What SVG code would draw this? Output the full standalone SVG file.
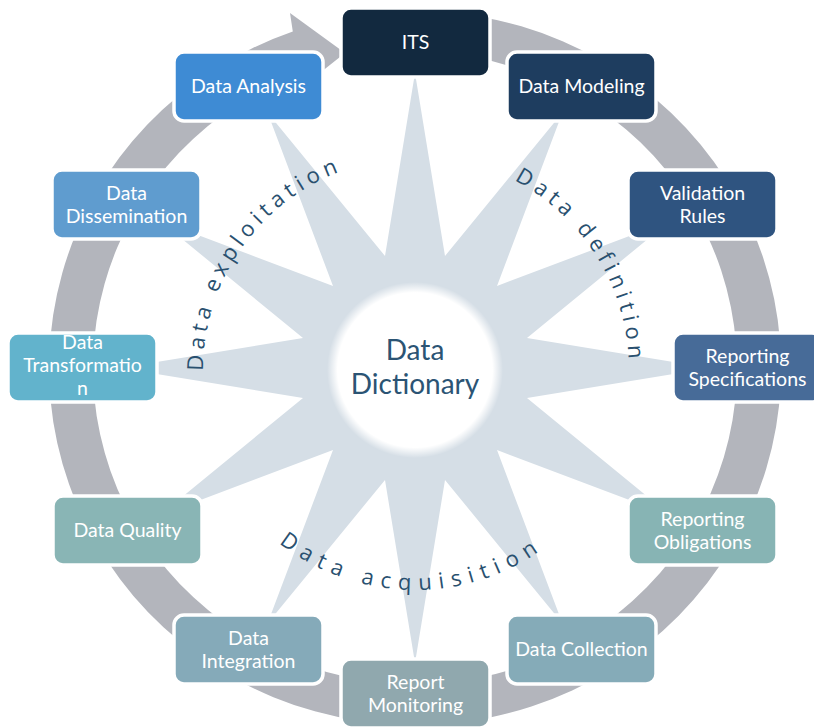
<svg xmlns="http://www.w3.org/2000/svg" width="814" height="728" viewBox="0 0 814 728">
<defs>
<style>
.box{stroke:#ffffff;stroke-width:3.5}
.lbl{font-family:Lato,"Open Sans",sans-serif;font-size:19.5px;fill:#ffffff;text-anchor:middle}
.arc{font-family:"Open Sans","Noto Sans",sans-serif;font-size:22px;fill:#29506f;letter-spacing:5px}
.wide{letter-spacing:7.5px}
.dd{font-family:Lato,"Open Sans",sans-serif;font-size:28px;fill:#2b5474;text-anchor:middle}
</style>
<radialGradient id="glow" cx="415" cy="370" r="88" gradientUnits="userSpaceOnUse">
<stop offset="0" stop-color="#ffffff" stop-opacity="1"/>
<stop offset="0.88" stop-color="#ffffff" stop-opacity="1"/>
<stop offset="1" stop-color="#ffffff" stop-opacity="0"/>
</radialGradient>
<path id="pExp" d="M231.4,476 A212,212 0 0 1 451.8,161.2"/>
<path id="pDef" d="M388.9,157.6 A214,214 0 0 1 594.5,486.6"/>
<path id="pAcq" d="M214,459.5 A220,220 0 0 0 612.7,466.4"/>
</defs>
<rect width="814" height="728" fill="#ffffff"/>
<g id="connectors">
<path id="ring" fill="#b3b5bc" d="M478.6,16.4 A366,357 0 1 1 292.8,31.5 L290,13 L345,53 L311,80 L307.5,70.1 A322,316 0 1 0 470.9,56.8 Z"/>
</g>
<g id="star">
<path fill="#d5dee6" d="M415,73 L445,256 L562.5,112.5 L497,286 L670.5,220.5 L527,338 L710,368 L527,398 L670.5,515.5 L497,450 L562.5,623.5 L445,480 L415,663 L385,480 L267.5,623.5 L333,450 L159.5,515.5 L303,398 L120,368 L303,338 L159.5,220.5 L333,286 L267.5,112.5 L385,256 Z"/>
</g>
<g id="center">
<circle cx="415" cy="370" r="88" fill="url(#glow)"/>
<text class="dd" x="415" y="360">Data</text>
<text class="dd" x="415" y="394">Dictionary</text>
</g>
<g id="phases">
<text class="arc"><textPath href="#pExp" startOffset="50%" text-anchor="middle">Data exploitation</textPath></text>
<text class="arc"><textPath href="#pDef" startOffset="50%" text-anchor="middle">Data definition</textPath></text>
<text class="arc wide"><textPath href="#pAcq" startOffset="50%" text-anchor="middle">Data acquisition</textPath></text>
</g>
<g id="n-its"><rect class="box" x="341" y="8" width="149" height="69" rx="10" fill="#12293f"/><text class="lbl" x="415.5" y="49">ITS</text></g>
<g id="n-modeling"><rect class="box" x="507" y="52" width="149" height="69" rx="10" fill="#1e3d5f"/><text class="lbl" x="581.5" y="93">Data Modeling</text></g>
<g id="n-validation"><rect class="box" x="628" y="170" width="149" height="69" rx="10" fill="#2f5480"/><text class="lbl" x="702.5" y="200">Validation</text><text class="lbl" x="702.5" y="223">Rules</text></g>
<g id="n-specs"><rect class="box" x="673" y="333" width="149" height="69" rx="10" fill="#476b98"/><text class="lbl" x="747.5" y="363">Reporting</text><text class="lbl" x="747.5" y="386">Specifications</text></g>
<g id="n-obligations"><rect class="box" x="628" y="496" width="149" height="69" rx="10" fill="#87b4b4"/><text class="lbl" x="702.5" y="525.5">Reporting</text><text class="lbl" x="702.5" y="548.5">Obligations</text></g>
<g id="n-collection"><rect class="box" x="507" y="615" width="149" height="69" rx="10" fill="#85abb8"/><text class="lbl" x="581.5" y="656">Data Collection</text></g>
<g id="n-monitoring"><rect class="box" x="341" y="659" width="149" height="69" rx="10" fill="#90a8ae"/><text class="lbl" x="415.5" y="688.5">Report</text><text class="lbl" x="415.5" y="711.5">Monitoring</text></g>
<g id="n-integration"><rect class="box" x="174" y="615" width="149" height="69" rx="10" fill="#85aab9"/><text class="lbl" x="248.5" y="644.5">Data</text><text class="lbl" x="248.5" y="667.5">Integration</text></g>
<g id="n-quality"><rect class="box" x="53" y="496" width="149" height="69" rx="10" fill="#89b5b5"/><text class="lbl" x="127.5" y="537">Data Quality</text></g>
<g id="n-transformation"><rect class="box" x="8" y="333" width="149" height="69" rx="10" fill="#62b3cc"/><text class="lbl" x="82.5" y="349">Data</text><text class="lbl" x="82.5" y="372">Transformatio</text><text class="lbl" x="82.5" y="395">n</text></g>
<g id="n-dissemination"><rect class="box" x="52" y="170" width="149" height="69" rx="10" fill="#5f9ccf"/><text class="lbl" x="126.5" y="200">Data</text><text class="lbl" x="126.5" y="223">Dissemination</text></g>
<g id="n-analysis"><rect class="box" x="174" y="52" width="149" height="69" rx="10" fill="#3e8bd4"/><text class="lbl" x="248.5" y="93">Data Analysis</text></g>
</svg>
